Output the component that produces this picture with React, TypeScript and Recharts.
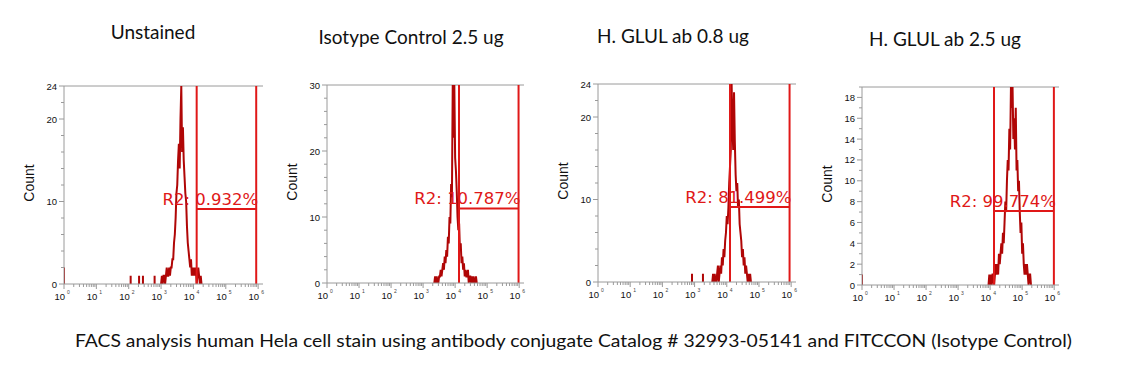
import React from "react";
import { LineChart, Line, XAxis, YAxis, ReferenceLine } from "recharts";

// panel texts
const titles = ["Unstained", "Isotype Control 2.5 ug", "H. GLUL ab 0.8 ug", "H. GLUL ab 2.5 ug"];
const gateLabels = ["R2: 0.932%", "R2: 10.787%", "R2: 81.499%", "R2: 99.774%"];
const caption =
  "FACS analysis human Hela cell stain using antibody conjugate Catalog # 32993-05141 and FITCCON (Isotype Control)";

// gate R2 (log10 units) and its marker level (count)
const gateLow = [4.1, 4.12, 4.1, 4.12];
const gateHigh = [5.94, 5.98, 5.95, 5.99];
const gateLevel = [9.1, 11.3, 9.1, 7.1];

// y axes
const yMax = [24, 30, 24, 19];
const yMajor = [
  [0, 10, 20, 24],
  [0, 10, 20, 30],
  [0, 10, 20, 24],
  [0, 2, 4, 6, 8, 10, 12, 14, 16, 18],
];
const yMinorStep = [2, 2, 2, 1];

// x axis decades 10^0 .. 10^6
const decades = [0, 1, 2, 3, 4, 5, 6];

// histogram counts, bins of 0.025 decade starting at peakStart
const binWidth = 0.025;
const peakStart = [3.0, 3.375, 3.575, 3.975];
const unstainedCounts = [
  0, 1, 0, 1, 1, 0, 1, 2, 1, 1, 2, 1, 2, 2, 3, 3, 5, 6, 8, 11, 12, 15, 17, 14, 20, 24, 16, 19, 15, 13, 11, 10,
  7, 5, 4, 3, 2, 3, 1, 2, 1, 2, 1, 2, 0, 1, 2, 1, 0, 1, 0,
];
const isotypeCounts = [
  1, 0, 1, 0, 0, 1, 1, 2, 1, 2, 3, 2, 4, 3, 5, 4, 7, 6, 10, 9, 15, 13, 30, 22, 30, 19, 17, 14, 10, 8, 9, 5, 6,
  3, 4, 2, 3, 1, 2, 1, 1, 2, 0, 1, 1, 0, 1, 0, 1, 0, 0, 1, 0,
];
const glul08Counts = [
  1, 0, 1, 0, 0, 1, 2, 0, 1, 2, 1, 3, 2, 4, 3, 5, 6, 8, 7, 9, 12, 14, 16, 24, 19, 16, 23, 17, 13, 11, 12, 9, 10,
  7, 6, 5, 3, 4, 2, 3, 1, 2, 1, 0, 1, 0, 1, 0,
];
const glul25Counts = [
  1, 0, 1, 0, 1, 1, 0, 1, 2, 1, 2, 1, 3, 2, 3, 4, 3, 5, 4, 6, 8, 7, 10, 12, 11, 15, 13, 19, 17, 19, 14, 16, 13,
  17, 11, 12, 9, 10, 7, 5, 6, 3, 4, 2, 1, 2, 1, 2, 1, 0, 1, 1, 0,
];
const panelCounts = [unstainedCounts, isotypeCounts, glul08Counts, glul25Counts];

// isolated events outside the peak: [log10 position, count]
const panelEvents = [
  [[0, 2], [2.06, 1], [2.32, 1], [2.44, 1], [2.8, 1]],
  [],
  [[2.92, 1], [3.26, 1]],
  [[0, 1]],
];

// plot boxes on the page
const plotLeft = [64, 327, 598, 862];
const plotTop = [86, 85, 84, 87];
const plotW = [199, 197, 198, 197];
const plotH = 198;
const titleX = [153, 411, 673, 945];
const titleY = [39, 44, 43, 46];

const RED = "#e01818";
const DARK = "#b00606";
const AXIS = "#9a9a9a";

type Pt = { x: number; y: number | null };

function buildSeries(events: number[][], start: number, counts: number[]): Pt[] {
  const pts: Pt[] = [];
  events.forEach(([x, c]) => {
    pts.push({ x, y: 0 }, { x, y: c }, { x, y: 0 }, { x, y: null });
  });
  pts.push({ x: start - binWidth, y: 0 });
  counts.forEach((c, i) => pts.push({ x: +(start + i * binWidth).toFixed(3), y: c }));
  pts.push({ x: +(start + counts.length * binWidth).toFixed(3), y: 0 });
  return pts;
}

const xTicks: number[] = [];
decades.forEach((d) => {
  xTicks.push(d);
  if (d < 6) for (let k = 2; k <= 9; k++) xTicks.push(d + Math.log10(k));
});

function XTick(props: any) {
  const { x, y, payload } = props;
  const v = payload.value;
  const major = Math.abs(v - Math.round(v)) < 1e-6;
  return (
    <g>
      <line x1={x} x2={x} y1={y} y2={y + (major ? 5 : 3)} stroke={AXIS} />
      {major && (
        <>
          <text x={x + 1} y={y + 16} fontSize={9.5} textAnchor="end" fill="#111" fontFamily="Liberation Sans">
            10
          </text>
          <text x={x + 3} y={y + 10} fontSize={5} fill="#444" fontFamily="Liberation Sans">
            {Math.round(v)}
          </text>
        </>
      )}
    </g>
  );
}

function makeYTick(majors: number[]) {
  return (props: any) => {
    const { x, y, payload } = props;
    const major = majors.includes(payload.value);
    return (
      <g>
        <line x1={x - (major ? 5 : 3)} x2={x} y1={y} y2={y} stroke={AXIS} />
        {major && (
          <text x={x - 7} y={y + 3.5} fontSize={9.5} textAnchor="end" fill="#111" fontFamily="Liberation Sans">
            {payload.value}
          </text>
        )}
      </g>
    );
  };
}

function Panel({ i }: { i: number }) {
  const data = buildSeries(panelEvents[i], peakStart[i], panelCounts[i]);
  const yTicks: number[] = [];
  for (let v = 0; v <= yMax[i]; v += yMinorStep[i]) yTicks.push(v);
  yMajor[i].forEach((v) => {
    if (!yTicks.includes(v)) yTicks.push(v);
  });
  yTicks.sort((a, b) => a - b);
  const label = gateLabels[i];
  return (
    <div style={{ position: "absolute", left: plotLeft[i] - 45, top: plotTop[i] - 10 }}>
      <LineChart
        width={plotW[i] + 55}
        height={plotH + 40}
        data={data}
        margin={{ top: 10, right: 10, left: 0, bottom: 0 }}
      >
        <XAxis
          type="number"
          dataKey="x"
          domain={[0, 6.15]}
          allowDataOverflow
          ticks={xTicks}
          interval={0}
          tickSize={0}
          tickMargin={0}
          tick={<XTick />}
          height={30}
          stroke={AXIS}
        />
        <YAxis
          type="number"
          domain={[0, yMax[i]]}
          allowDataOverflow
          ticks={yTicks}
          interval={0}
          tickSize={0}
          tickMargin={0}
          tick={makeYTick(yMajor[i])}
          width={45}
          stroke={AXIS}
        />
        <ReferenceLine y={yMax[i]} stroke={AXIS} />
        <Line
          dataKey="y"
          type="linear"
          stroke={DARK}
          strokeWidth={2}
          dot={false}
          connectNulls={false}
          isAnimationActive={false}
        />
        <ReferenceLine x={gateLow[i]} stroke={RED} strokeWidth={2} />
        <ReferenceLine x={gateHigh[i]} stroke={RED} strokeWidth={2} />
        <ReferenceLine
          segment={[
            { x: gateLow[i], y: gateLevel[i] },
            { x: gateHigh[i], y: gateLevel[i] },
          ]}
          stroke={RED}
          strokeWidth={2}
          label={(p: any) => {
            const vb = p.viewBox || {};
            return (
              <text
                x={(vb.x ?? 0) + (vb.width ?? 0) + 2}
                y={(vb.y ?? 0) - 4}
                textAnchor="end"
                fontSize={16.5}
                fill={RED}
                fontFamily="DejaVu Sans"
              >
                {label}
              </text>
            );
          }}
        />
      </LineChart>
    </div>
  );
}

export default function App() {
  return (
    <div style={{ position: "absolute", left: 0, top: 0, width: 1139, height: 378, background: "#fff" }}>
      {titles.map((_, i) => (
        <Panel key={i} i={i} />
      ))}
      <svg
        width={1139}
        height={378}
        style={{ position: "absolute", left: 0, top: 0, pointerEvents: "none" }}
      >
        {titles.map((t, i) => (
          <text key={t} x={titleX[i]} y={titleY[i]} textAnchor="middle" fontSize={19} fontFamily="Lato" fill="#111">
            {t}
          </text>
        ))}
        {plotLeft.map((l, i) => (
          <text
            key={i}
            transform={`translate(${l - 30}, ${plotTop[i] + 97}) rotate(-90)`}
            textAnchor="middle"
            fontSize={14}
            fontFamily="Liberation Sans"
            fill="#111"
          >
            Count
          </text>
        ))}
        <text x={75} y={347} fontSize={18} fontFamily="Lato" fill="#111" textLength={997} lengthAdjust="spacingAndGlyphs">
          {caption}
        </text>
      </svg>
    </div>
  );
}
